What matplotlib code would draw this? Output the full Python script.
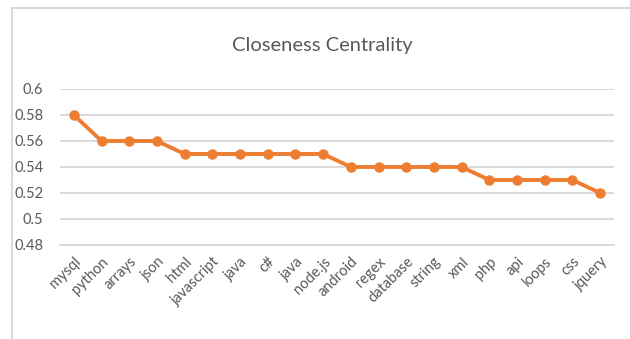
import matplotlib.pyplot as plt
from matplotlib.lines import Line2D

# tags and their closeness centrality
tags = ['mysql', 'python', 'arrays', 'json', 'html', 'javascript', 'java', 'c#',
        'java', 'node.js', 'android', 'regex', 'database', 'string', 'xml',
        'php', 'api', 'loops', 'css', 'jquery']
closeness = [0.58, 0.56, 0.56, 0.56, 0.55, 0.55, 0.55, 0.55, 0.55, 0.55,
             0.54, 0.54, 0.54, 0.54, 0.54, 0.53, 0.53, 0.53, 0.53, 0.52]
y_ticks = [0.48, 0.5, 0.52, 0.54, 0.56, 0.58, 0.6]
y_labels = ['0.48', '0.5', '0.52', '0.54', '0.56', '0.58', '0.6']

plt.rcParams['font.family'] = ['Lato', 'DejaVu Sans']
text_col = '#595959'
grid_col = '#D9D9D9'

fig = plt.figure(figsize=(6.3, 3.39), dpi=100)
ax = fig.add_axes([0.0952, 0.2773, 0.8794, 0.4602])

x = list(range(len(tags)))
ax.plot(x, closeness, color='#ED7D31', linewidth=2.8, marker='o',
        markersize=6.5, solid_capstyle='round', zorder=3)

ax.set_xlim(-0.5, len(tags) - 0.5)
ax.set_ylim(0.48, 0.6)
ax.set_yticks(y_ticks)
ax.set_yticklabels(y_labels)
ax.set_xticks(x)
ax.set_xticklabels(tags, rotation=45, ha='right', rotation_mode='anchor')

ax.grid(axis='y', color=grid_col, linewidth=1.4)
ax.set_axisbelow(True)
for s in ['top', 'right', 'left']:
    ax.spines[s].set_visible(False)
ax.spines['bottom'].set_color(grid_col)
ax.spines['bottom'].set_linewidth(1.4)
ax.tick_params(axis='both', length=0, colors=text_col, labelsize=10.5)
ax.tick_params(axis='y', pad=12)
ax.tick_params(axis='x', pad=7)

fig.text(0.511, 0.865, 'Closeness Centrality', ha='center', va='center',
         fontsize=14.5, color=text_col)

# chart frame (left and top edges)
fig.add_artist(Line2D([0.0183, 0.0183], [0.0, 0.975], color=grid_col, linewidth=1.5))
fig.add_artist(Line2D([0.0183, 1.0], [0.975, 0.975], color=grid_col, linewidth=1.5))

fig.savefig('out.png', dpi=100)
